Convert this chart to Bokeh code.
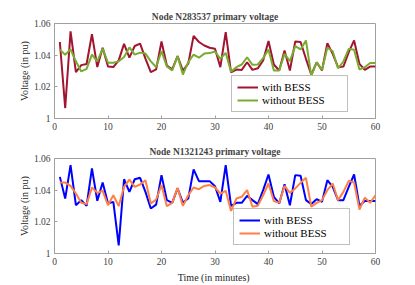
from bokeh.plotting import figure
from bokeh.models import Range1d, FixedTicker, Legend, LegendItem
from bokeh.layouts import column
from bokeh.embed import file_html
from bokeh.resources import INLINE

time_min = list(range(1, 61))

n1_with_bess = [1.0483, 1.0066, 1.0551, 1.0293, 1.0337, 1.0344, 1.0532, 1.0325, 1.0447, 1.0329,
                1.0325, 1.0367, 1.0471, 1.0384, 1.0458, 1.0473, 1.0378, 1.0293, 1.0310, 1.0486,
                1.0335, 1.0310, 1.0394, 1.0303, 1.0346, 1.0522, 1.0483, 1.0461, 1.0447, 1.0440,
                1.0324, 1.0546, 1.0292, 1.0309, 1.0307, 1.0355, 1.0307, 1.0317, 1.0366, 1.0489,
                1.0341, 1.0303, 1.0430, 1.0303, 1.0487, 1.0483, 1.0377, 1.0277, 1.0355, 1.0303,
                1.0476, 1.0408, 1.0324, 1.0328, 1.0419, 1.0493, 1.0345, 1.0307, 1.0328, 1.0328]
n1_without_bess = [1.0435, 1.0403, 1.0437, 1.0361, 1.0297, 1.0314, 1.0403, 1.0361, 1.0441, 1.0352,
                   1.0352, 1.0361, 1.0388, 1.0449, 1.0403, 1.0416, 1.0410, 1.0361, 1.0325, 1.0426,
                   1.0329, 1.0303, 1.0394, 1.0278, 1.0356, 1.0403, 1.0384, 1.0410, 1.0413, 1.0423,
                   1.0377, 1.0415, 1.0296, 1.0324, 1.0341, 1.0387, 1.0339, 1.0341, 1.0381, 1.0436,
                   1.0303, 1.0303, 1.0408, 1.0362, 1.0457, 1.0436, 1.0493, 1.0269, 1.0355, 1.0307,
                   1.0447, 1.0425, 1.0317, 1.0360, 1.0440, 1.0434, 1.0309, 1.0324, 1.0351, 1.0351]

n2_with_bess = [1.0484, 1.0347, 1.0558, 1.0305, 1.0337, 1.0301, 1.0537, 1.0333, 1.0448, 1.0316,
                1.0326, 1.0051, 1.0469, 1.0389, 1.0469, 1.0478, 1.0389, 1.0284, 1.0309, 1.0495,
                1.0337, 1.0320, 1.0411, 1.0322, 1.0347, 1.0531, 1.0457, 1.0457, 1.0457, 1.0425,
                1.0326, 1.0558, 1.0301, 1.0320, 1.0320, 1.0364, 1.0337, 1.0312, 1.0400, 1.0499,
                1.0358, 1.0316, 1.0438, 1.0305, 1.0495, 1.0491, 1.0337, 1.0312, 1.0343, 1.0326,
                1.0463, 1.0421, 1.0337, 1.0337, 1.0421, 1.0499, 1.0301, 1.0331, 1.0331, 1.0331]
n2_without_bess = [1.0448, 1.0448, 1.0427, 1.0379, 1.0320, 1.0312, 1.0417, 1.0383, 1.0396, 1.0305,
                   1.0368, 1.0299, 1.0421, 1.0467, 1.0421, 1.0436, 1.0463, 1.0316, 1.0341, 1.0432,
                   1.0299, 1.0320, 1.0415, 1.0301, 1.0368, 1.0417, 1.0406, 1.0427, 1.0432, 1.0417,
                   1.0379, 1.0396, 1.0269, 1.0347, 1.0358, 1.0400, 1.0295, 1.0301, 1.0368, 1.0442,
                   1.0331, 1.0320, 1.0427, 1.0383, 1.0411, 1.0446, 1.0478, 1.0295, 1.0320, 1.0337,
                   1.0400, 1.0442, 1.0337, 1.0389, 1.0459, 1.0448, 1.0278, 1.0353, 1.0320, 1.0368]

x_ticks = [0, 10, 20, 30, 40, 50, 60]
y_ticks = [1.0, 1.02, 1.04, 1.06]
y_tick_labels = ["1", "1.02", "1.04", "1.06"]

titles = ["Node N283537 primary voltage", "Node N1321243 primary voltage"]
series_labels = ["with BESS", "without BESS"]

SERIF = "Liberation Serif"
AXIS_COL = "#a0a0a0"
LABEL_COL = "#404040"


def style_axis(ax):
    ax.axis_line_color = AXIS_COL
    ax.major_tick_line_color = AXIS_COL
    ax.major_tick_in = 3
    ax.major_tick_out = 0
    ax.minor_tick_line_color = None
    ax.major_label_text_font = SERIF
    ax.major_label_text_font_size = "9.5px"
    ax.major_label_text_color = LABEL_COL
    ax.axis_label_text_font = SERIF
    ax.axis_label_text_font_style = "normal"
    ax.axis_label_text_font_size = "10px"
    ax.axis_label_text_color = "#262626"


def make_panel(title, y_with, y_without, colors, height, top_border, bottom_border, xlabel, legend_loc):
    p = figure(width=415, height=height, output_backend="svg", toolbar_location=None,
               x_range=Range1d(0, 60), y_range=Range1d(1.0, 1.06),
               min_border_left=54, min_border_right=40,
               min_border_top=top_border, min_border_bottom=bottom_border)
    p.title.text = title
    p.title.text_font = SERIF
    p.title.text_font_size = "9.5px"
    p.title.text_font_style = "bold"
    p.title.align = "center"
    p.title.standoff = 3
    p.title.offset = 0
    p.grid.visible = False
    p.outline_line_color = AXIS_COL
    p.outline_line_alpha = 1
    p.background_fill_color = "white"
    p.border_fill_color = "white"

    r1 = p.line(time_min, y_with, line_color=colors[0], line_width=2)
    r2 = p.line(time_min, y_without, line_color=colors[1], line_width=2)

    p.xaxis.ticker = FixedTicker(ticks=x_ticks)
    p.yaxis.ticker = FixedTicker(ticks=y_ticks)
    p.yaxis.major_label_overrides = {t: s for t, s in zip(y_ticks, y_tick_labels)}
    p.yaxis.axis_label = "Voltage (in pu)"
    p.xaxis.axis_label = xlabel
    style_axis(p.xaxis[0])
    style_axis(p.yaxis[0])
    p.xaxis.major_label_standoff = 4
    p.yaxis.major_label_standoff = 4
    p.yaxis.axis_label_standoff = 1
    p.xaxis.axis_label_standoff = 4

    legend = Legend(items=[LegendItem(label=series_labels[0], renderers=[r1]),
                           LegendItem(label=series_labels[1], renderers=[r2])],
                    location=legend_loc)
    legend.label_text_font = SERIF
    legend.label_text_font_size = "11px"
    legend.label_text_color = "#000000"
    legend.glyph_width = 21
    legend.glyph_height = 12
    legend.label_height = 12
    legend.label_width = 80
    legend.label_standoff = 4
    legend.spacing = 1
    legend.padding = 5
    legend.margin = 0
    legend.border_line_color = "#808080"
    legend.border_line_width = 1
    legend.background_fill_color = "white"
    legend.background_fill_alpha = 1
    p.add_layout(legend, "center")
    return p


top = make_panel(titles[0], n1_with_bess, n1_without_bess, ["#A2142F", "#77AC30"],
                 138, 23, 20, None, (177, 6))
bottom = make_panel(titles[1], n2_with_bess, n2_without_bess, ["#0000FF", "#FF7F45"],
                    147, 20, 32, "Time  (in minutes)", (179, 8))

layout = column(top, bottom, spacing=0)
open("out.html", "w").write(file_html(layout, INLINE))
